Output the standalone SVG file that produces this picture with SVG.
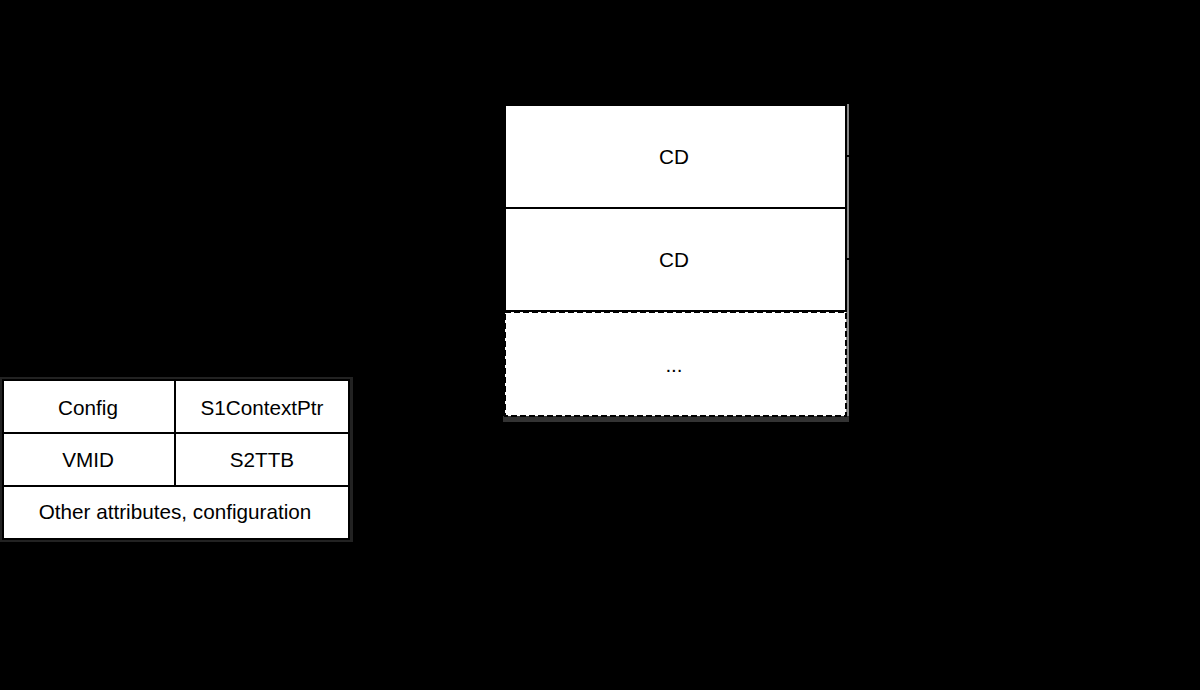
<svg xmlns="http://www.w3.org/2000/svg" width="1200" height="690" viewBox="0 0 1200 690">
<style>
.cell{fill:#fff;stroke:#000;stroke-width:2}
.dash{fill:#fff;stroke:#000;stroke-width:2;stroke-dasharray:6 3}
.t{font-family:"Liberation Sans",Arial,sans-serif;font-size:20.7px;fill:#000;text-anchor:middle;dominant-baseline:central}
.c{stroke:#000;stroke-width:2;fill:none}
</style>
<rect width="1200" height="690" fill="#000"/>
<g id="context-table">
<rect x="0" y="377" width="353" height="165" fill="#222"/>
<rect class="cell" x="3" y="380" width="172" height="53"/>
<text class="t" x="88" y="407">Config</text>
<rect class="cell" x="175" y="380" width="174" height="53"/>
<text class="t" x="262" y="407">S1ContextPtr</text>
<rect class="cell" x="3" y="433" width="172" height="53"/>
<text class="t" x="88" y="459">VMID</text>
<rect class="cell" x="175" y="433" width="174" height="53"/>
<text class="t" x="262" y="459">S2TTB</text>
<rect class="cell" x="3" y="486" width="346" height="53"/>
<text class="t" x="175" y="511">Other attributes, configuration</text>
</g>
<g id="cd-table">
<rect x="846" y="104" width="3" height="318" fill="#888"/>
<rect x="503" y="416" width="346" height="6" fill="#333"/>
<g id="cd1">
<rect class="cell" x="505" y="105" width="341" height="103"/>
<text class="t" x="674" y="156">CD</text>
</g>
<g id="cd2">
<rect class="cell" x="505" y="208" width="341" height="103"/>
<text class="t" x="674" y="259">CD</text>
</g>
<g id="cd-more">
<rect class="dash" x="505" y="312" width="341" height="104"/>
<text class="t" x="674" y="364">...</text>
</g>
</g>
<g id="connectors">
<line class="c" x1="846" y1="156" x2="900" y2="156"/>
<line class="c" x1="846" y1="259" x2="900" y2="259"/>
</g>
</svg>
